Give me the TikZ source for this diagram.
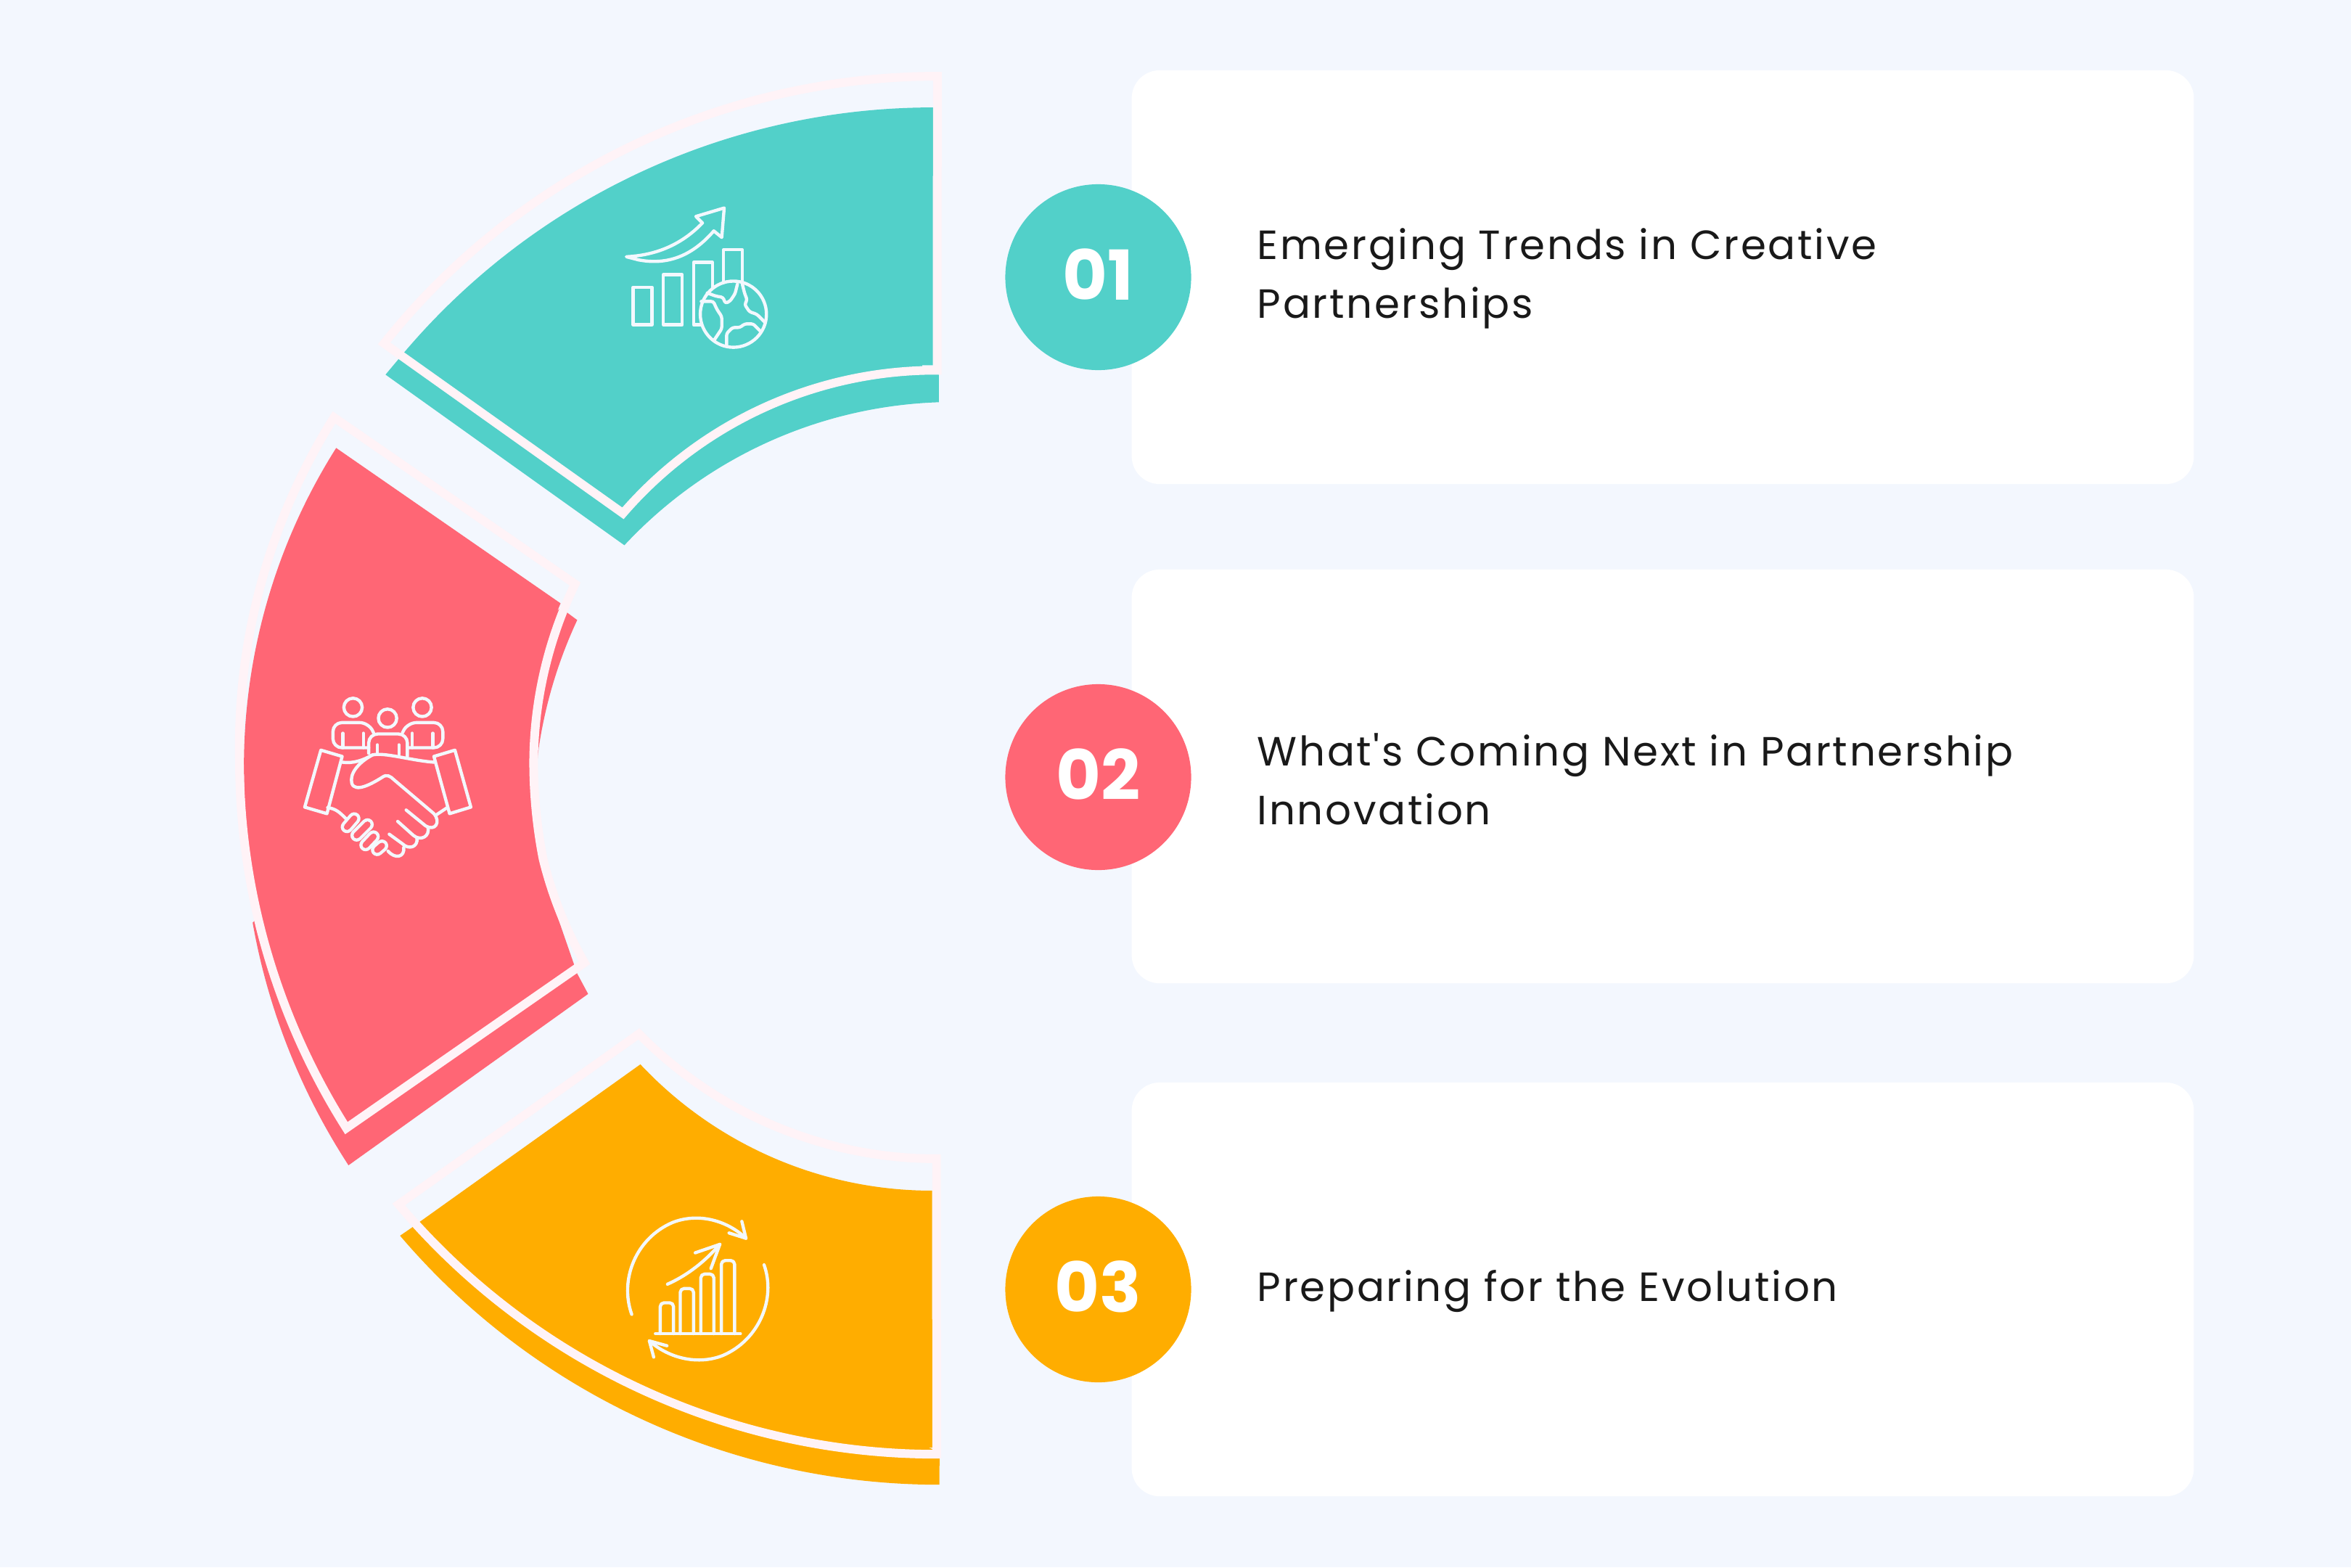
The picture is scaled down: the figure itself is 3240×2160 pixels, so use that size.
\documentclass[tikz,border=0pt]{standalone}
\usepackage{fontspec}
\setmainfont{Poppins}
\newfontfamily\labfont{Poppins}[LetterSpace=4.8]
\usetikzlibrary{svg.path}
\definecolor{bgc}{HTML}{F3F7FE}
\definecolor{tealc}{HTML}{52D0C9}
\definecolor{pinkc}{HTML}{FF6675}
\definecolor{orangec}{HTML}{FFAD00}
\definecolor{edgec}{HTML}{FFF3F7}
\definecolor{iconc}{HTML}{F3F8FE}
\tikzset{
 px/.style={xscale=0.284528,yscale=-0.284528},
 edgeline/.style={draw=edgec,line width=3.4pt,line join=miter},
 card/.style={fill=white,draw=none,rounded corners=11pt,minimum width=14.63cm,minimum height=5.7cm,inner sep=0pt},
 badge/.style={circle,minimum size=2.56cm,inner sep=0pt,text=white,font=\fontsize{27}{27}\selectfont\bfseries},
 label/.style={anchor=west,align=left,inner sep=0pt,text=black!90,font=\labfont\fontsize{16}{23}\selectfont},
 ic/.style={draw=iconc,line width=1.25pt,line join=round,line cap=round},
 zoomed/.style={x=0.0033333cm,y=-0.0033333cm}
}
\begin{document}
\begin{tikzpicture}[x=0.01cm,y=-0.01cm]
\useasboundingbox (0,0) rectangle (3240,2160);
\fill[bgc] (0,0) rectangle (3240,2160);
% cards
\node[card] (c1) at (2291.5,382) {};
\node[card] (c2) at (2291.5,1070) {};
\node[card] (c3) at (2291.5,1777) {};
% badges
\node[badge,fill=tealc] (b1) at (1513.5,382) {};
\node[badge,fill=pinkc] (b2) at (1513.5,1071) {};
\node[badge,fill=orangec] (b3) at (1513.5,1777) {};
\node[badge,minimum size=0pt] (n1) at (1513.5,378) {01};
\node[badge,minimum size=0pt] (n2) at (1513.5,1067) {02};
\node[badge,minimum size=0pt] (n3) at (1513.5,1773) {03};
% labels
\node[label] (t1) at (1732,384) {Emerging Trends in Creative\\Partnerships};
\node[label] (t2) at (1732,1074) {What's Coming Next in Partnership\\Innovation};
\node[label] (t3) at (1732,1780) {Preparing for the Evolution};
% segments
\begin{scope}[px]
% teal
\fill[tealc] svg {M 1293 516 L 1293 554 A 620 620 0 0 0 860 751 L 531 516 L 557 485 L 1000 300 L 1270 300 L 1270 512 Z};
\fill[tealc] svg {M 1285 148 A 955 955 0 0 0 557 485 L 857 699 A 565 565 0 0 1 1285 503 Z};
\draw[edgeline] svg {M 1291 105 A 975 975 0 0 0 529 473 L 858 707 A 570 570 0 0 1 1291 510 Z};
% pink
\fill[pinkc] svg {M 795 854 A 640 640 0 0 0 742 1030 L 735 1100 L 760 1240 L 795 1341 L 810 1369 L 480 1605 A 900 900 0 0 1 348 1271 L 600 1000 L 772 837 Z};
\fill[pinkc] svg {M 463 617 A 820 820 0 0 0 336 1052 A 950 950 0 0 0 478 1551 L 789 1330 A 560 560 0 0 1 743 1183 A 700 700 0 0 1 728 1052 A 560 560 0 0 1 772 837 Z};
\draw[edgeline] svg {M 460 575 A 850 850 0 0 0 330 1052 A 950 950 0 0 0 477 1560 L 805 1326 A 560 560 0 0 1 748 1183 A 700 700 0 0 1 735 1052 A 570 570 0 0 1 792 810 Z};
% orange
\fill[orangec] svg {M 551 1702 A 976 976 0 0 0 1294 2045 L 1294 2000 L 1270 1990 L 1270 1800 L 900 1700 L 578 1683 L 567 1691 Z};
\fill[orangec] svg {M 882 1466 A 551 551 0 0 0 1284 1640 L 1284 1994 A 957 957 0 0 1 578 1683 Z};
\draw[edgeline] svg {M 880 1424 A 575 575 0 0 0 1290 1596 L 1290 2003 A 970 970 0 0 1 549 1659 Z};
\end{scope}
% icon 1
\begin{scope}[shift={(800,250)},zoomed]
\draw[ic] (190,312) .. controls (330,305) and (430,250) .. (505,172) -- (478,145) -- (595,110) -- (585,232) -- (552,205) .. controls (470,300) and (370,350) .. (240,325) -- cycle;
\draw[ic] (218,438) rectangle (296,594);
\draw[ic] (343,386) rectangle (421,594);
\draw[ic] (546,440) -- (546,335) -- (468,335) -- (468,594) -- (500,594);
\draw[ic] (592,420) -- (592,283) -- (670,283) -- (670,420);
\draw[ic] (633,550) circle (137);
\draw[ic,rounded corners=.8pt] (525,462) -- (560,475) -- (590,480) -- (600,505) -- (620,495) -- (640,465) -- (650,425);
\draw[ic,rounded corners=.8pt] (500,497) -- (550,497) -- (565,530) -- (585,560) -- (585,610) -- (555,655);
\draw[ic,rounded corners=.8pt] (670,425) -- (680,465) -- (690,490) -- (680,510) -- (700,540) -- (730,550) -- (765,585);
\draw[ic,rounded corners=.8pt] (605,680) -- (605,630) -- (630,605) -- (660,605) -- (680,590) -- (715,590) -- (745,620);
\end{scope}
% icon 2
\begin{scope}[shift={(380,920)},zoomed]
\draw[ic] (320,165) circle (38);
\draw[ic] (463,210) circle (38);
\draw[ic] (607,165) circle (38);
\draw[ic,rounded corners=3.5pt] (405,270) -- (385,228) -- (237,228) -- (237,332) -- (385,332);
\draw[ic] (278,272) -- (278,332) (363,272) -- (363,332);
\draw[ic,rounded corners=3.5pt] (525,270) -- (545,228) -- (692,228) -- (692,332) -- (550,332);
\draw[ic] (565,272) -- (565,332) (650,272) -- (650,332);
\draw[ic,rounded corners=3.5pt] (385,355) -- (385,275) -- (545,275) -- (545,368);
\draw[ic] (421,320) -- (421,355) (510,320) -- (510,360);
\draw[ic] (187,342) -- (275,368) -- (212,605) -- (120,578) -- cycle;
\draw[ic] (742,342) -- (655,368) -- (720,605) -- (808,578) -- cycle;
\draw[ic] (275,392) .. controls (320,398) and (360,385) .. (400,362) .. controls (450,350) and (560,385) .. (655,392);
\draw[ic] (400,362) .. controls (340,395) and (305,440) .. (315,480) .. controls (330,520) and (400,480) .. (440,455) .. controls (460,440) and (475,450) .. (490,465) -- (655,605) .. controls (685,640) and (660,680) .. (620,655) -- (540,590);
\draw[ic] (630,660) .. controls (640,700) and (600,720) .. (570,695) -- (505,637);
\draw[ic] (585,705) .. controls (590,745) and (550,755) .. (525,730) -- (470,690);
\draw[ic] (530,745) .. controls (535,785) and (495,795) .. (465,760);
\draw[ic] (665,610) -- (710,580);
\draw[ic] (215,580) .. controls (250,585) and (265,600) .. (290,625);
\foreach \a/\b/\c/\d in {295/660/325/625, 335/695/380/650, 372/735/405/700, 420/755/440/738}{
 \draw[iconc,line width=4.9pt,line cap=round] (\a,\b) -- (\c,\d);
 \draw[pinkc,line width=2.4pt,line cap=round] (\a,\b) -- (\c,\d);
}
\end{scope}
% icon 3
\begin{scope}[shift={(830,1650)},zoomed]
\draw[ic] (122,485) .. controls (70,340) and (140,170) .. (290,105) .. controls (390,65) and (510,90) .. (595,170);
\draw[ic] (525,148) -- (595,170) -- (578,100);
\draw[ic] (670,280) .. controls (720,420) and (650,590) .. (500,655) .. controls (400,695) and (280,670) .. (195,595);
\draw[ic] (268,615) -- (195,595) -- (213,662);
\draw[ic] (270,360) .. controls (360,320) and (430,260) .. (487,195);
\draw[ic] (385,230) -- (487,195) -- (450,295);
\draw[ic,rounded corners=1.5pt] (240,565) -- (240,437) -- (295,437) -- (295,565);
\draw[ic,rounded corners=1.5pt] (323,565) -- (323,378) -- (378,378) -- (378,565);
\draw[ic,rounded corners=1.5pt] (408,565) -- (408,318) -- (462,318) -- (462,565);
\draw[ic,rounded corners=1.5pt] (493,565) -- (493,262) -- (548,262) -- (548,565);
\draw[ic] (220,565) -- (572,565);
\end{scope}
\end{tikzpicture}
\end{document}
